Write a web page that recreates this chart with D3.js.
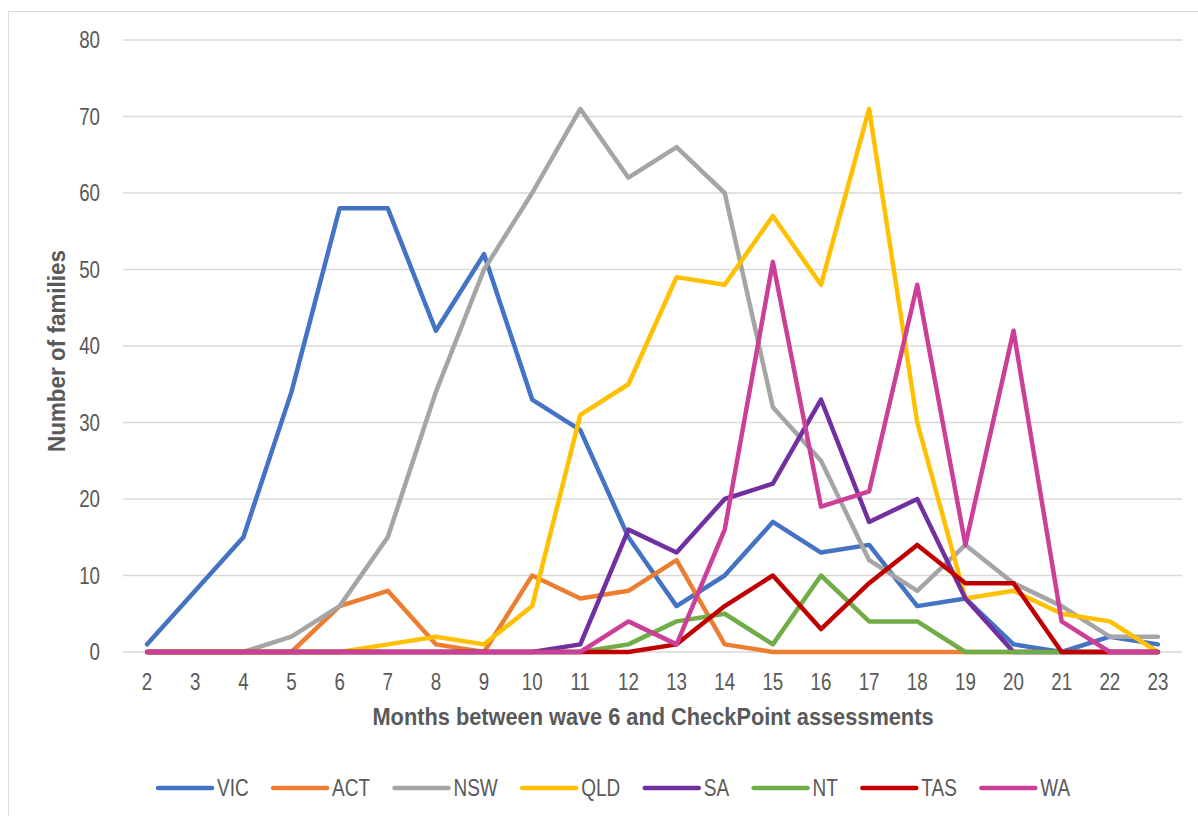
<!DOCTYPE html>
<html>
<head>
<meta charset="utf-8">
<script src="https://cdn.jsdelivr.net/npm/d3@7"></script>
<style>
  body { margin: 0; background: #fff; }
  text { font-family: "Liberation Sans", Arial, sans-serif; fill: #595959; }
</style>
</head>
<body>
<script>
// months between wave 6 and CheckPoint
const months = [2,3,4,5,6,7,8,9,10,11,12,13,14,15,16,17,18,19,20,21,22,23];
const yTicks = [0,10,20,30,40,50,60,70,80];

const states = ["VIC","ACT","NSW","QLD","SA","NT","TAS","WA"];
const colors = ["#4472C4","#ED7D31","#A5A5A5","#FFC000","#7030A0","#70AD47","#C00000","#CC3F99"];

const vic = [1,8,15,34,58,58,42,52,33,29,15,6,10,17,13,14,6,7,1,0,2,1];
const act = [0,0,0,0,6,8,1,0,10,7,8,12,1,0,0,0,0,0,0,0,0,0];
const nsw = [0,0,0,2,6,15,34,50,60,71,62,66,60,32,25,12,8,14,9,6,2,2];
const qld = [0,0,0,0,0,1,2,1,6,31,35,49,48,57,48,71,30,7,8,5,4,0];
const sa  = [0,0,0,0,0,0,0,0,0,1,16,13,20,22,33,17,20,7,0,0,0,0];
const nt  = [0,0,0,0,0,0,0,0,0,0,1,4,5,1,10,4,4,0,0,0,0,0];
const tas = [0,0,0,0,0,0,0,0,0,0,0,1,6,10,3,9,14,9,9,0,0,0];
const wa  = [0,0,0,0,0,0,0,0,0,0,4,1,16,51,19,21,48,14,42,4,0,0];

const seriesValues = [vic, act, nsw, qld, sa, nt, tas, wa];

const W = 1198, H = 816;
const svg = d3.select("body").append("svg")
  .attr("width", W).attr("height", H);

// squeeze text to look like a narrow face (no Arial Narrow here)
function narrow(sel, ratio) {
  sel.each(function() {
    const len = this.getComputedTextLength();
    d3.select(this)
      .attr("textLength", len * ratio)
      .attr("lengthAdjust", "spacingAndGlyphs");
  });
}

// chart frame
svg.append("rect")
  .attr("x", 8.5).attr("y", 11.5)
  .attr("width", W + 20).attr("height", H + 20)
  .attr("fill", "none").attr("stroke", "#d9d9d9").attr("stroke-width", 1);

const plot = { left: 123, right: 1182, top: 40, bottom: 652 };

const x = d3.scaleBand()
  .domain(months)
  .range([plot.left, plot.right]);

const y = d3.scaleLinear()
  .domain([0, 80])
  .range([plot.bottom, plot.top]);

// gridlines
svg.append("g")
  .selectAll("line")
  .data(yTicks)
  .enter().append("line")
  .attr("x1", plot.left).attr("x2", plot.right)
  .attr("y1", d => y(d)).attr("y2", d => y(d))
  .attr("stroke", "#d9d9d9").attr("stroke-width", 1.5);

// y tick labels
svg.append("g")
  .selectAll("text")
  .data(yTicks)
  .enter().append("text")
  .attr("x", 100)
  .attr("y", d => y(d))
  .attr("dy", "0.35em")
  .attr("text-anchor", "end")
  .style("font-size", "24px")
  .text(d => d)
  .call(narrow, 0.78);

// x tick labels
svg.append("g")
  .selectAll("text")
  .data(months)
  .enter().append("text")
  .attr("x", d => x(d) + x.bandwidth() / 2)
  .attr("y", 690)
  .attr("text-anchor", "middle")
  .style("font-size", "24px")
  .text(d => d)
  .call(narrow, 0.78);

// axis titles
svg.append("text")
  .attr("x", 653)
  .attr("y", 725)
  .attr("text-anchor", "middle")
  .style("font-size", "23px")
  .style("font-weight", "bold")
  .attr("textLength", 561)
  .attr("lengthAdjust", "spacingAndGlyphs")
  .text("Months between wave 6 and CheckPoint assessments");

svg.append("text")
  .attr("transform", "translate(65,351) rotate(-90)")
  .attr("text-anchor", "middle")
  .style("font-size", "23px")
  .style("font-weight", "bold")
  .attr("textLength", 202)
  .attr("lengthAdjust", "spacingAndGlyphs")
  .text("Number of families");

// lines
const line = d3.line()
  .x((d, i) => x(months[i]) + x.bandwidth() / 2)
  .y(d => y(d));

svg.append("g")
  .selectAll("path")
  .data(seriesValues)
  .enter().append("path")
  .attr("d", d => line(d))
  .attr("fill", "none")
  .attr("stroke", (d, i) => colors[i])
  .attr("stroke-width", 4.5)
  .attr("stroke-linejoin", "round")
  .attr("stroke-linecap", "round");

// legend
const legend = svg.append("g");
let lx = 158;
states.forEach((s, i) => {
  legend.append("line")
    .attr("x1", lx).attr("x2", lx + 54)
    .attr("y1", 788).attr("y2", 788)
    .attr("stroke", colors[i]).attr("stroke-width", 4.5)
    .attr("stroke-linecap", "round");
  const t = legend.append("text")
    .attr("x", lx + 59)
    .attr("y", 796)
    .style("font-size", "24px")
    .text(s)
    .call(narrow, 0.79);
  lx += 59 + +t.attr("textLength") + 24.5;
});
</script>
</body>
</html>
